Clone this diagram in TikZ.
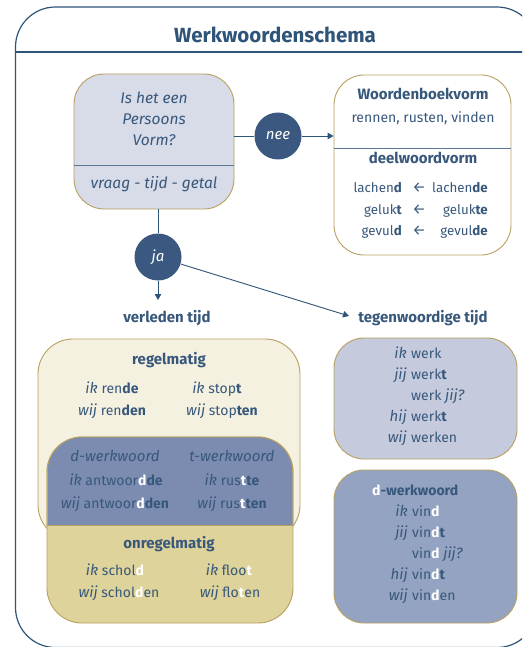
\documentclass[tikz,border=0pt]{standalone}
\usepackage{fontspec}
\setmainfont{Fira Sans}
\usetikzlibrary{arrows.meta}
\definecolor{txt}{HTML}{38587B}
\definecolor{framec}{HTML}{2F5479}
\definecolor{gold}{HTML}{B8A060}
\definecolor{circfill}{HTML}{3B5980}
\definecolor{boxA}{HTML}{D8DBE8}
\definecolor{cream}{HTML}{F5F1E1}
\definecolor{tanc}{HTML}{DED39A}
\definecolor{blueA}{HTML}{7B8CB0}
\definecolor{blueB}{HTML}{C5CADD}
\definecolor{blueC}{HTML}{93A3C1}
\newcommand\wh[1]{\textcolor{white}{\textbf{#1}}}
\newcommand\ii[1]{{\fontsize{15}{17}\selectfont\itshape #1}}
\begin{document}
\begin{tikzpicture}[x=1pt,y=-1pt,
  every node/.style={text=txt, font=\fontsize{14}{16}\selectfont},
  box/.style={draw=gold, line width=0.9pt, rounded corners=30pt, inner sep=0pt},
  circnode/.style={circle, fill=circfill, minimum size=47pt, inner sep=0pt, text=white, font=\fontsize{15}{17}\selectfont\itshape},
  conn/.style={draw=framec, line width=0.9pt},
  arr/.style={conn, -{Triangle[length=6pt,width=6.5pt]}},
  head/.style={font=\fontsize{15}{17}\selectfont\bfseries},
  itq/.style={font=\fontsize{15.5}{17}\selectfont\itshape},
  tx/.style={inner sep=0pt, anchor=mid},
  tl/.style={inner sep=0pt, anchor=mid west},
  tr/.style={inner sep=0pt, anchor=mid east},
  wrow/.style={tr, font=\fontsize{13.3}{15}\selectfont},
  larr/.style={inner sep=0pt, anchor=mid, font=\fontsize{15}{15}\selectfont},
  sep/.style={draw=framec!80, line width=0.9pt}
]
\clip (0,0) rectangle (522,647);
\useasboundingbox (0,0) rectangle (522,647);
\fill[white] (0,0) rectangle (522,647);
% frame
\draw[draw=framec, line width=1.2pt, rounded corners=40pt] (15.5,7) rectangle (537,647.5);
\draw[draw=framec, line width=1.2pt] (15.5,52) -- (537,52);
\node[inner sep=0pt, font=\fontsize{20.5}{22}\selectfont\bfseries, text=framec] (title) at (275,35) {Werkwoordenschema};

% question box
\node[box, fill=boxA, minimum width=160pt, minimum height=135pt] (q) at (154,141.5) {};
\draw[sep] (74,165) -- (234,165);
\node[tx, itq] (q1) at (154,101) {Is het een};
\node[tx, itq] (q2) at (154,122) {Persoons};
\node[tx, itq] (q3) at (154,143) {Vorm?};
\node[tx, itq] (q4) at (154,186) {vraag - tijd - getal};

% dictionary box
\node[box, fill=white, minimum width=177pt, minimum height=180pt] (a) at (422.5,165) {};
\draw[sep] (334,148) -- (511,148);
\node[tx, head] (a1) at (423,97) {Woordenboekvorm};
\node[tx] (a2) at (423,120) {rennen, rusten, vinden};
\node[tx, head] (a3) at (423,161) {deelwoordvorm};
\node[wrow] (l1) at (402,190) {lachen\textbf{d}};
\node[wrow] (l2) at (402,212) {geluk\textbf{t}};
\node[wrow] (l3) at (402,233) {gevul\textbf{d}};
\node[larr] (p1) at (419,190) {←};
\node[larr] (p2) at (419,212) {←};
\node[larr] (p3) at (419,233) {←};
\node[wrow] (m1) at (488,190) {lachen\textbf{de}};
\node[wrow] (m2) at (488,212) {geluk\textbf{te}};
\node[wrow] (m3) at (488,233) {gevul\textbf{de}};

% circles
\node[circnode] (nee) at (278,136) {nee};
\node[circnode] (ja) at (158,257) {ja};
\draw[conn] (nee.west) -- (nee.west -| q.east);
\draw[arr] (nee.east) -- (nee.east -| a.west);
\draw[conn] (ja.north |- q.south) -- (ja.north);

\node[tx, head] (vt) at (167,320) {verleden tijd};
\node[tx, head] (tt) at (423,320) {tegenwoordige tijd};
\coordinate (vtc) at (158,300);
\coordinate (ttc) at (349,316);
\draw[arr] (ja.south) -- (vtc);
\draw[arr] (ja) -- (ttc);

% regelmatig
\node[box, fill=cream, rounded corners=35pt, minimum width=262pt, minimum height=201pt] (reg) at (169,439.5) {};
\node[box, fill=tanc, rounded corners=35pt, minimum width=246pt, minimum height=186pt] (onr) at (170,530) {};
\begin{scope}
\clip (40,430) rectangle (300,525);
\fill[blueA, rounded corners=35pt] (47.5,437) rectangle (292.5,623);
\draw[gold, line width=0.9pt, rounded corners=35pt] (47,437) rectangle (293,623);
\end{scope}
\draw[gold, line width=0.9pt] (47,525) -- (293,525);

\node[tx, head] (rg) at (169,362) {regelmatig};
\node[tx] (r1) at (112,391) {\ii{ik} ren\textbf{de}};
\node[tx] (r2) at (112,413) {\ii{wij} ren\textbf{den}};
\node[tx] (r3) at (217,391) {\ii{ik} stop\textbf{t}};
\node[tx] (r4) at (222,413) {\ii{wij} stop\textbf{ten}};

\node[tx] (b1) at (115,459) {\ii{d-werkwoord}};
\node[tx] (b2) at (232,459) {\ii{t-werkwoord}};
\node[tx] (b3) at (116,483) {\ii{ik} antwoor\wh{d}\textbf{de}};
\node[tx] (b4) at (115,506) {\ii{wij} antwoor\wh{d}\textbf{den}};
\node[tx] (b5) at (232,483) {\ii{ik} rus\wh{t}\textbf{te}};
\node[tx] (b6) at (232,506) {\ii{wij} rus\wh{t}\textbf{ten}};

\node[tx, head] (on) at (169,546) {onregelmatig};
\node[tx] (o1) at (115,573) {\ii{ik} schol\wh{d}};
\node[tx] (o2) at (119,595) {\ii{wij} schol\wh{d}en};
\node[tx] (o3) at (229,573) {\ii{ik} floo\wh{t}};
\node[tx] (o4) at (230,595) {\ii{wij} flo\wh{t}en};

% tegenwoordige tijd
\node[box, fill=blueB, minimum width=183pt, minimum height=121pt] (tg) at (425.5,398.5) {};
\node[tr] (g1) at (407,356) {\ii{ik}};
\node[tl] (h1) at (411,356) {werk};
\node[tr] (g2) at (407,377) {\ii{jij}};
\node[tl] (h2) at (411,377) {werk\textbf{t}};
\node[tl] (h3) at (411,398) {werk \ii{jij?}};
\node[tr] (g4) at (407,419) {\ii{hij}};
\node[tl] (h4) at (411,419) {werk\textbf{t}};
\node[tr] (g5) at (407,440) {\ii{wij}};
\node[tl] (h5) at (411,440) {werken};

% d-werkwoord
\node[box, fill=blueC, minimum width=183pt, minimum height=153pt] (dw) at (425.5,546.5) {};
\node[tl] (d0) at (372,493) {\wh{d}\textbf{-werkwoord}};
\node[tr] (e1) at (408,514) {\ii{ik}};
\node[tl] (f1) at (412,514) {vin\wh{d}};
\node[tr] (e2) at (408,535) {\ii{jij}};
\node[tl] (f2) at (412,535) {vin\wh{d}\textbf{t}};
\node[tl] (f3) at (412,556) {vin\wh{d} \ii{jij?}};
\node[tr] (e4) at (408,577) {\ii{hij}};
\node[tl] (f4) at (412,577) {vin\wh{d}\textbf{t}};
\node[tr] (e5) at (408,598) {\ii{wij}};
\node[tl] (f5) at (412,598) {vin\wh{d}en};
\end{tikzpicture}
\end{document}
